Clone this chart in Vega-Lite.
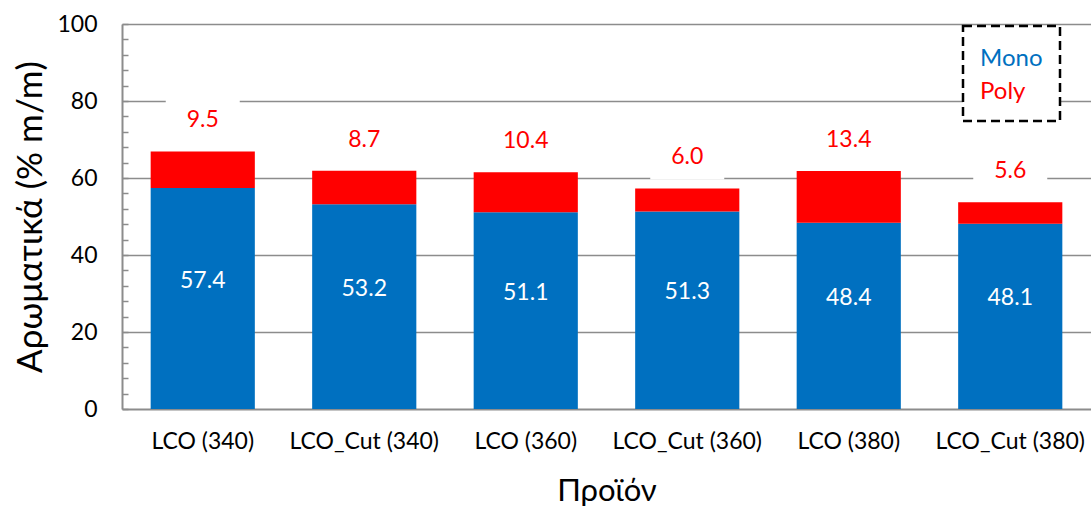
{
  "$schema": "https://vega.github.io/schema/vega-lite/v6.json",
  "width": 969,
  "height": 385,
  "autosize": {"type": "none"},
  "padding": {"left": 122, "top": 24, "right": 0, "bottom": 97},
  "background": "white",
  "config": {
    "font": "Lato",
    "view": {"stroke": null}
  },
  "data": {
    "values": [
      {"product": "LCO (340)", "type": "Mono", "value": 57.4},
      {"product": "LCO (340)", "type": "Poly", "value": 9.5},
      {"product": "LCO_Cut (340)", "type": "Mono", "value": 53.2},
      {"product": "LCO_Cut (340)", "type": "Poly", "value": 8.7},
      {"product": "LCO (360)", "type": "Mono", "value": 51.1},
      {"product": "LCO (360)", "type": "Poly", "value": 10.4},
      {"product": "LCO_Cut (360)", "type": "Mono", "value": 51.3},
      {"product": "LCO_Cut (360)", "type": "Poly", "value": 6.0},
      {"product": "LCO (380)", "type": "Mono", "value": 48.4},
      {"product": "LCO (380)", "type": "Poly", "value": 13.4},
      {"product": "LCO_Cut (380)", "type": "Mono", "value": 48.1},
      {"product": "LCO_Cut (380)", "type": "Poly", "value": 5.6}
    ]
  },
  "transform": [
    {"stack": "value", "groupby": ["product"], "sort": [{"field": "type", "order": "ascending"}], "as": ["y0", "y1"]},
    {"calculate": "(datum.y0 + datum.y1) / 2", "as": "ymid"}
  ],
  "encoding": {
    "x": {
      "field": "product",
      "type": "nominal",
      "sort": null,
      "scale": {"paddingInner": 0.355, "paddingOuter": 0.1775},
      "axis": {
        "title": "Προϊόν",
        "titleFontSize": 31,
        "titleFontWeight": "normal",
        "titleColor": "black",
        "titleBaseline": "alphabetic",
        "titleY": 91,
        "labelAngle": 0,
        "labelFontSize": 23,
        "labelColor": "black",
        "labelPadding": 21,
        "labelLimit": 300,
        "labelOverlap": false,
        "ticks": false,
        "domainColor": "#8c8c8c",
        "domainWidth": 2,
        "grid": false
      }
    }
  },
  "layer": [
    {
      "mark": {"type": "bar"},
      "encoding": {
        "y": {
          "field": "y0",
          "type": "quantitative",
          "scale": {"domain": [0, 100], "nice": false},
          "axis": {
            "title": "Αρωματικά (% m/m)",
            "titleFontSize": 35,
            "titleFontWeight": "normal",
            "titleColor": "black",
            "titleX": -92,
            "titleBaseline": "middle",
            "values": [0, 4, 8, 12, 16, 20, 24, 28, 32, 36, 40, 44, 48, 52, 56, 60, 64, 68, 72, 76, 80, 84, 88, 92, 96, 100],
            "tickCount": 30,
            "labelExpr": "datum.value % 20 === 0 ? datum.label : ''",
            "labelOverlap": false,
            "labelBound": false,
            "labelFontSize": 23,
            "labelColor": "black",
            "labelPadding": 31,
            "tickSize": -6,
            "tickColor": "#8c8c8c",
            "tickWidth": 1.5,
            "domainColor": "#8c8c8c",
            "domainWidth": 2,
            "grid": true,
            "gridColor": "#8c8c8c",
            "gridWidth": 1.5,
            "gridOpacity": {"condition": {"test": "datum.value % 20 === 0 && datum.value > 0", "value": 1}, "value": 0}
          }
        },
        "y2": {"field": "y1"},
        "color": {
          "field": "type",
          "type": "nominal",
          "scale": {"domain": ["Mono", "Poly"], "range": ["#0070C0", "#FF0000"]},
          "legend": {
            "title": null,
            "orient": "none",
            "legendX": 841,
            "legendY": 2,
            "padding": 17,
            "rowPadding": 5,
            "fillColor": "white",
            "strokeColor": "black",
            "symbolType": "circle",
            "symbolSize": 0,
            "symbolStrokeWidth": 0,
            "symbolOpacity": 0,
            "labelOffset": -24,
            "labelFontSize": 24,
            "labelLimit": 200,
            "encode": {
              "legend": {
                "update": {
                  "strokeDash": {"value": [9, 5]},
                  "strokeWidth": {"value": 2.5}
                }
              },
              "labels": {
                "update": {
                  "fill": {"signal": "datum.label === 'Mono' ? '#0070C0' : '#FF0000'"},
                  "dy": {"value": 4}
                }
              }
            }
          }
        }
      }
    },
    {
      "transform": [{"filter": "datum.type === 'Poly'"}],
      "mark": {
        "type": "point",
        "shape": "M-1,-0.6H1V0.6H-1Z",
        "size": 5476,
        "filled": true,
        "fill": "white",
        "opacity": 1,
        "strokeWidth": 0,
        "yOffset": -31
      },
      "encoding": {
        "y": {"field": "y1", "type": "quantitative"}
      }
    },
    {
      "transform": [{"filter": "datum.type === 'Poly'"}],
      "mark": {"type": "text", "fontSize": 23, "color": "#FF0000", "baseline": "middle", "dy": -31},
      "encoding": {
        "y": {"field": "y1", "type": "quantitative"},
        "text": {"field": "value", "type": "quantitative", "format": ".1f"}
      }
    },
    {
      "transform": [{"filter": "datum.type === 'Mono'"}],
      "mark": {"type": "text", "fontSize": 23, "color": "white", "baseline": "middle", "dy": -18},
      "encoding": {
        "y": {"field": "ymid", "type": "quantitative"},
        "text": {"field": "value", "type": "quantitative", "format": ".1f"}
      }
    }
  ]
}
